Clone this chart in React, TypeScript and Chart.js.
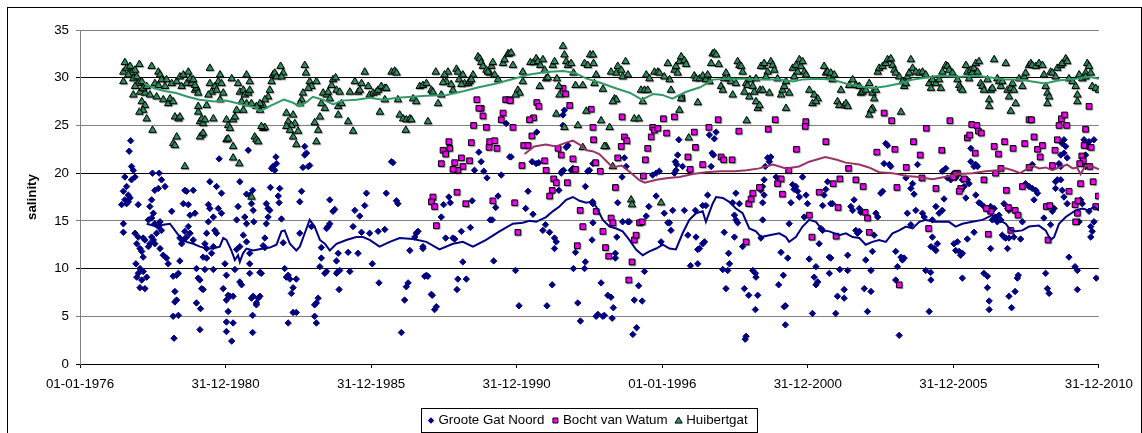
import { useEffect, useRef } from 'react';
import { Chart, registerables } from 'chart.js';

Chart.register(...registerables);

// ---- axis definitions ----
const xTickLabels = ['01-01-1976', '31-12-1980', '31-12-1985', '31-12-1990', '01-01-1996', '31-12-2000', '31-12-2005', '31-12-2010'];
const xStart = 1976;
const xEnd = 2011;
const xStep = 5;
const yMax = 35;
const yStep = 5;
const yTitle = 'salinity';

const seriesNames = ['Groote Gat Noord', 'Bocht van Watum', 'Huibertgat'];

// ---- measurements: [decimal year, salinity] ----
const grooteGatNoord: [number, number][] = [
  [1977.74,23.4],[1977.69,22.3],[1977.77,20.7],[1977.83,20.3],[1977.54,19.6],[1977.89,19.6],[1977.77,19.3],[1977.60,18.6],[1977.49,18.1],[1977.66,17.7],[1977.72,17.4],[1977.54,17.2],[1977.43,16.7],[1977.60,16.8],[1977.66,17.0],[1978.00,16.7],[1977.49,14.7],[1977.49,13.8],[1977.89,13.7],[1978.00,13.3],[1977.95,12.6],[1978.06,12.1],[1978.12,11.8],[1978.17,11.2],[1977.92,10.5],[1978.06,10.0],[1978.17,9.7],[1978.00,9.5],[1977.95,9.1],[1978.29,9.1],[1978.12,8.8],[1978.06,8.0],[1978.23,7.9],
  [1978.49,20.0],[1978.72,20.0],[1978.80,19.3],[1978.92,18.6],[1978.69,18.4],[1978.57,18.2],[1978.46,17.2],[1978.40,16.5],[1978.52,15.8],[1978.46,15.3],[1978.35,15.1],[1978.57,14.7],[1978.75,14.9],[1978.69,14.4],[1978.80,14.0],[1978.63,13.7],[1978.46,13.3],[1978.52,13.0],[1978.40,12.6],[1978.35,12.3],[1978.57,12.6],[1978.75,12.1],[1978.86,11.4],[1978.97,11.1],[1979.03,10.5],[1978.23,13.0],[1978.17,13.2],
  [1979.15,16.0],[1979.43,10.8],[1979.20,9.2],[1979.32,9.3],[1979.38,9.5],[1979.26,7.6],[1979.32,6.7],[1979.26,6.5],[1979.20,5.0],[1979.38,5.1],[1979.23,2.7],
  [1979.60,18.2],[1979.66,18.1],[1979.55,16.8],[1979.72,16.7],[1979.89,18.2],[1979.78,15.6],[1979.95,15.8],[1979.72,14.4],[1979.78,13.7],[1979.66,13.3],[1979.55,13.0],[1979.49,12.6],[1979.89,13.0],[1979.60,13.9],[1979.43,13.2],
  [1980.00,10.0],[1980.12,8.8],[1980.06,9.0],[1980.23,7.8],[1980.18,7.9],[1980.00,6.4],[1980.14,5.8],[1980.12,3.6],
  [1980.46,19.1],[1980.69,18.6],[1980.86,17.9],[1980.41,16.7],[1980.46,16.3],[1980.75,16.3],[1980.86,15.8],[1980.58,15.4],[1980.41,14.9],[1980.63,14.0],[1980.35,13.7],[1980.69,13.7],[1980.29,12.6],[1980.35,12.1],[1980.58,12.3],[1980.52,11.6],[1980.23,11.2],[1980.35,11.1],[1980.58,9.9],[1980.29,9.9],
  [1980.98,10.5],[1981.03,9.3],[1980.92,7.9],[1981.03,6.7],[1981.09,5.5],[1981.03,4.4],[1981.26,4.3],[1981.03,3.4],[1981.21,2.4],[1981.09,7.2],[1981.15,7.1],[1981.26,7.1],
  [1981.49,19.1],[1981.43,16.5],[1981.38,15.1],[1981.66,15.4],[1981.72,14.7],[1981.61,13.5],[1981.72,12.8],[1981.49,12.3],[1981.38,12.0],[1981.32,9.9],[1981.49,8.6],[1981.55,8.3],[1981.84,17.7],[1981.72,17.8],[1981.93,18.2],[1981.89,16.8],[1981.95,16.1],[1981.97,14.9],[1981.89,6.9],[1981.93,5.1],[1981.93,3.3],[1981.78,22.4],[1980.78,21.5],
  [1982.73,21.7],[1982.63,20.7],[1982.69,20.3],[1982.58,20.5],[1982.75,21.0],[1983.72,22.8],[1983.78,22.1],[1983.72,21.9],[1983.66,20.6],[1983.84,20.7],[1983.89,20.8],[1986.70,21.2],[1986.75,21.1],
  [1982.54,18.5],[1982.86,18.4],[1982.81,17.6],[1982.84,16.9],[1982.40,16.8],[1982.46,16.3],[1982.52,16.1],[1982.46,15.4],[1982.40,14.7],[1982.35,13.2],[1982.92,15.2],[1982.98,12.7],[1982.29,12.4],[1982.35,12.2],[1981.83,11.6],[1981.83,10.5],[1981.83,9.5],
  [1982.18,9.6],[1982.23,9.5],[1983.03,10.0],[1983.09,9.1],[1983.15,9.3],[1983.21,8.9],[1983.43,8.9],[1983.32,8.0],[1983.26,7.4],[1981.95,7.1],[1982.12,6.9],[1982.18,7.1],[1982.06,6.4],[1982.06,6.2],[1983.32,5.4],[1983.43,5.4],[1983.15,4.3],
  [1983.61,18.1],[1983.55,17.0],[1984.58,17.2],[1984.75,16.2],[1984.69,16.0],[1984.58,14.7],[1984.52,14.4],[1984.47,14.2],[1983.95,14.4],[1983.55,13.7],[1984.29,12.2],[1984.29,11.1],[1984.24,10.2],[1984.47,9.7],[1984.41,9.5],[1984.87,9.7],[1984.81,9.5],[1984.92,9.8],[1985.27,9.7],[1984.87,11.6],[1984.81,10.8],[1985.21,11.7],[1985.55,11.6],[1984.90,7.8],[1984.18,6.9],[1984.12,6.4],[1984.06,6.2],[1984.06,5.0],[1984.12,4.3],
  [1985.84,17.9],[1985.78,16.6],[1985.44,16.1],[1985.61,15.5],[1985.38,14.4],[1985.67,13.8],[1985.95,13.7],[1986.24,13.9],[1986.47,14.1],[1986.52,17.9],[1986.87,17.1],[1986.92,16.8],[1986.04,10.5],[1986.27,8.5],[1987.27,8.5],[1987.21,8.1],[1987.15,6.7],[1987.04,3.3],[1987.61,13.9],[1987.55,13.7],[1987.50,13.3],[1987.33,11.9],[1987.78,12.3],[1987.84,9.2],
  [1987.78,12.1],[1987.90,9.3],[1987.95,9.2],[1988.10,7.2],[1988.07,7.3],[1988.24,6.0],[1988.18,5.7],[1988.41,15.4],[1988.49,16.7],[1988.56,13.2],[1988.67,17.5],[1988.72,16.9],[1988.87,13.1],[1988.81,13.2],[1989.10,13.9],[1988.98,8.9],[1989.27,8.9],[1988.95,7.8],[1989.15,10.7],[1989.41,14.3],[1989.47,17.1],[1989.55,20.3],[1989.70,22.2],[1989.78,21.2],[1989.87,20.2],[1989.98,19.5],[1990.09,15.1],[1990.16,15.1],[1990.21,10.8],[1990.28,16.4],[1990.36,17.6],[1990.47,19.8],[1990.64,25.2],[1990.81,21.7],[1990.76,21.7],[1990.96,9.8],[1991.08,6.1],[1991.31,16.3],[1991.39,18.1],[1991.56,15.7],[1991.53,21.2],[1991.67,21.0],[1991.76,21.1],[1991.69,24.3],[1992.04,6.1],[1991.90,14.0],[1991.99,14.6],[1992.13,13.8],[1992.30,13.2],[1992.36,12.8],[1992.30,12.1],[1992.22,8.3],[1992.45,18.2],[1992.53,20.0],[1992.56,20.2],[1992.61,20.3],[1992.59,25.0],[1992.59,26.1],[1992.64,26.6],[1992.70,22.7],[1992.76,22.9],[1992.87,20.3],[1992.93,20.5],[1993.10,6.4],[1993.19,4.5],[1993.36,18.6],[1993.44,20.2],[1993.50,20.3],[1993.62,21.0],[1993.62,16.8],[1993.62,14.8],[1993.59,13.0],[1993.02,11.7],[1993.36,10.7],[1993.33,10.0],[1992.95,10.0],
  [1993.61,17.0],[1993.90,8.5],[1994.13,7.2],[1994.24,7.0],[1994.32,5.9],[1994.28,4.8],[1994.01,5.1],[1993.96,5.0],[1993.73,5.0],[1993.79,5.2],[1994.47,16.9],[1994.62,19.6],[1994.70,21.6],[1994.76,20.7],[1994.44,13.3],[1994.39,11.6],[1994.39,11.1],[1994.64,14.9],[1994.82,14.9],[1994.87,14.9],[1994.99,3.1],[1995.12,3.8],[1995.04,6.7],[1995.31,6.6],[1995.19,8.2],[1995.39,9.7],[1995.45,15.5],[1995.54,16.5],[1995.79,17.6],[1996.07,15.8],[1996.19,14.8],[1996.25,14.8],[1996.30,14.0],[1996.36,16.1],[1995.96,12.8],[1995.67,19.8],[1995.79,20.0],[1995.90,20.2],[1996.42,20.0],[1996.47,20.3],[1996.50,20.9],[1996.45,21.2],[1996.53,21.9],[1996.57,23.5],[1996.70,20.7],[1996.76,16.1],[1996.88,13.5],[1996.93,20.3],[1997.14,16.1],[1997.16,13.3],[1997.22,12.0],[1997.28,12.1],[1997.39,12.6],[1997.45,12.8],[1996.97,10.3],[1997.22,10.5],[1997.39,16.6],[1997.50,16.6],[1997.56,17.7],[1997.68,20.7],[1997.71,22.1],[1997.76,21.9],[1997.79,23.6],[1997.62,24.0],[1997.85,24.3],[1998.13,13.8],[1998.19,7.9],[1998.08,9.9],[1998.25,9.8],[1998.28,11.6],[1998.31,10.5],[1998.42,16.9],[1998.48,15.6],[1998.53,15.1],[1998.59,14.8],[1998.53,17.9],[1998.65,16.8],[1998.48,13.3],[1998.76,12.3],[1998.82,7.9],[1998.97,7.2],[1999.11,9.8],[1999.20,9.5],[1999.22,9.1],[1999.28,7.2],[1999.20,5.7],[1998.88,2.9],[1998.85,2.6],[1999.39,13.2],[1999.45,15.1],[1999.45,18.6],
  [1999.50,19.3],[1999.62,21.6],[1999.73,21.7],[1999.68,21.2],[1999.54,20.7],[1999.39,18.2],[1999.50,17.7],[1999.45,16.9],[1999.91,19.6],[2000.04,19.4],[2000.48,18.8],[2000.59,18.6],[2000.53,18.3],[2000.65,18.1],[2000.71,17.5],[2000.82,19.6],[2000.94,17.7],[2000.99,16.8],[2000.42,16.9],[2000.36,14.7],[2000.08,11.7],[2000.31,11.1],[2000.16,9.3],[2000.00,8.3],[2000.23,6.1],[2000.19,6.0],[2000.23,4.1],[2000.88,15.4],[2001.05,11.0],[2001.28,10.2],[2001.22,9.1],[2001.34,8.6],[2001.28,8.3],[2001.16,5.3],[2001.45,14.2],[2001.51,14.0],[2001.56,17.7],[2001.62,18.3],[2001.68,19.1],[2001.51,16.6],[2001.79,16.8],[2001.85,16.8],[2001.39,12.6],[2001.74,11.2],[2001.79,11.1],[2001.74,9.5],[2002.02,7.1],[2002.25,7.8],[2002.37,11.4],[2002.10,9.9],[2001.96,5.3],[2002.37,9.8],[2002.25,6.9],[2002.48,16.5],[2002.59,17.2],[2002.54,16.1],[2002.77,16.3],[2002.82,15.9],[2002.65,14.0],[2002.71,13.7],[2002.77,13.9],[2002.99,10.9],[2003.05,5.5],[2003.17,9.8],[2002.94,7.9],[2003.22,11.8],[2003.17,7.6],[2003.28,13.5],[2003.34,15.8],[2003.40,15.4],[2003.51,17.9],[2003.57,18.1],[2003.62,21.0],[2003.68,23.1],[2003.74,22.9],[2003.80,20.9],[2003.85,20.7],[2004.02,11.8],[2004.08,10.2],[2004.14,3.0],[2004.20,11.2],[2004.25,10.9],[2004.31,11.1],[2004.02,8.8],[2004.42,15.8],[2004.54,18.4],[2004.60,18.9],[2004.65,17.8],[2004.71,16.1],[2004.77,20.9],[2004.37,19.5],[2004.54,14.6],[2004.94,15.8],[2005.00,15.4],[2005.05,9.8],[2005.17,5.5],[2005.23,8.8],[2005.23,12.3],[2005.28,15.1],
  [2005.40,16.5],[2005.62,16.1],[2005.68,17.3],[2005.74,20.5],[2005.62,20.2],[2005.80,19.5],[2005.97,19.5],[2005.91,19.3],[2006.02,20.0],[2006.08,19.5],[2006.31,19.3],[2006.37,18.6],[2006.48,19.3],[2006.54,18.9],[2006.60,22.6],[2006.60,21.2],[2006.71,20.7],[2006.77,20.9],[2006.83,20.7],[2006.43,17.4],[2006.77,17.7],[2006.88,16.9],[2006.94,16.8],[2007.05,16.5],[2007.17,16.2],[2007.28,16.5],[2007.34,15.1],[2007.40,16.3],[2007.45,15.4],[2007.51,14.9],[2007.63,15.1],[2007.74,16.8],[2007.86,16.3],[2007.91,16.1],[2007.57,15.6],[2007.68,13.5],[2007.74,13.3],[2007.80,13.2],[2007.91,13.2],[2008.08,13.3],[2008.31,13.1],[2008.37,14.9],[2008.48,18.9],[2008.66,20.7],[2008.71,20.9],[2008.60,18.6],[2008.71,18.4],[2008.83,18.2],[2008.89,17.9],[2008.77,17.2],[2009.11,15.3],[2009.34,14.6],[2009.40,16.0],[2009.46,16.3],[2009.51,19.1],[2009.57,19.3],[2009.51,18.4],[2009.63,21.0],[2009.69,20.7],[2009.69,19.3],[2009.80,23.5],[2009.74,23.1],[2009.86,22.8],[2009.80,22.1],[2009.69,21.9],[2009.91,21.6],[2009.74,18.2],[2009.80,17.5],[2009.91,16.8],[2010.49,23.5],[2010.66,23.3],[2010.54,21.9],[2010.60,22.8],[2010.54,20.7],[2010.37,17.2],[2010.43,16.8],[2010.32,14.9],[2010.72,14.4],[2010.77,13.9],[2010.83,14.9],[2010.72,13.3],
  [2005.22,9.6],[2005.28,13.3],[2005.34,12.1],[2005.40,11.9],[2005.45,12.6],[2005.51,15.8],[2006.02,12.6],[2006.08,11.9],[2006.20,11.8],[2006.25,11.4],[2006.31,11.6],[2006.48,13.1],[2006.14,12.8],[2006.71,13.8],[2006.31,9.0],[2007.05,9.5],[2007.17,9.2],[2007.28,12.1],[2007.86,12.1],[2007.17,8.0],[2007.23,6.6],[2007.23,5.7],[2007.91,7.1],[2008.00,5.9],[2008.12,7.6],[2008.23,9.3],[2008.20,9.0],[2009.17,9.5],[2009.23,7.9],[2009.29,7.4],[2009.97,11.2],[2010.18,10.2],[2010.26,9.8],[2010.26,7.8],[2010.91,9.0],[2010.83,23.5],[2010.66,16.0],
];

const bochtVanWatum: [number, number][] = [
  [1989.63,27.7],[1989.78,26.8],[1989.70,26.8],[1989.84,26.0],[1989.52,25.0],[1989.96,24.8],[1990.62,27.7],[1990.73,27.7],[1990.78,27.6],[1990.53,26.3],[1990.47,25.6],[1990.87,24.8],[1991.69,27.4],[1991.76,27.0],[1991.58,25.8],[1991.44,25.6],[1991.52,23.9],[1988.67,23.3],[1988.70,22.6],[1988.47,22.4],[1988.56,22.0],[1988.41,21.0],[1988.87,21.1],[1989.10,21.6],[1989.15,20.7],[1988.98,20.3],[1988.81,20.4],[1989.44,23.2],[1989.38,21.3],[1990.07,23.3],[1990.24,23.4],[1990.05,22.7],[1990.32,22.6],[1988.12,17.5],[1988.07,17.0],[1988.18,16.5],[1988.95,18.0],[1989.25,16.8],[1990.18,17.1],[1990.93,16.9],[1988.24,14.5],[1991.24,22.9],[1991.39,22.9],[1991.18,20.8],[1991.96,21.3],[1992.01,20.3],[1992.27,19.4],[1992.36,19.0],[1992.22,18.2],[1992.13,17.6],[1992.74,19.0],[1993.02,20.4],[1992.93,21.5],[1992.53,21.9],[1992.42,22.6],[1992.59,28.9],[1992.68,28.3],[1992.82,27.1],[1993.56,26.7],[1993.62,24.8],[1993.64,23.5],[1993.18,16.1],[1993.27,14.4],[1993.08,12.4],[1991.04,13.8],
  [1993.71,21.1],[1993.87,20.2],[1993.73,16.0],[1993.96,13.9],[1994.05,12.2],[1994.16,11.3],[1994.24,15.3],[1994.30,14.8],[1994.39,18.5],[1994.47,21.6],[1994.59,22.8],[1994.62,25.9],[1994.70,23.8],[1994.78,23.4],[1994.85,8.8],[1994.96,10.7],[1995.04,13.0],[1995.10,13.5],[1995.22,14.8],[1995.31,14.9],[1995.35,19.7],[1995.42,21.4],[1995.50,22.6],[1995.62,23.8],[1995.67,24.8],[1995.73,24.5],[1995.85,24.7],[1996.04,25.7],[1996.15,24.2],[1996.42,25.9],[1996.67,27.9],[1996.88,21.7],[1996.96,20.4],[1997.14,22.7],[1997.10,24.3],[1997.39,20.9],[1997.60,24.8],[1997.92,25.6],[1998.02,21.7],[1998.11,21.4],[1998.40,21.4],[1998.63,24.4],[1998.88,12.8],[1998.97,16.8],[1999.05,17.3],[1999.11,17.9],[1999.34,18.5],
  [1999.88,25.6],[1999.64,24.6],[2000.93,25.4],[2000.91,24.9],[2000.61,22.5],[2001.62,23.3],[2000.34,20.3],[2000.08,19.4],[1999.96,18.9],[2000.13,17.8],[2001.05,15.6],[2001.14,13.3],[2001.39,18.0],[2001.87,18.9],[2002.10,19.4],[2002.04,16.4],[2001.97,13.4],[2002.40,20.5],[2002.65,19.3],[2002.90,18.6],[2002.97,15.9],[2003.05,15.3],[2003.11,13.8],[2003.37,22.2],[2003.62,26.3],[2003.88,25.5],[2003.99,22.5],[2004.06,18.5],[2004.14,8.3],[2004.38,20.6],[2004.63,23.3],[2004.86,21.9],[2004.92,19.5],[2005.07,24.7],[2005.15,14.2],
  [2005.88,25.5],[2005.60,22.4],[2005.40,18.4],[2006.63,25.1],[2006.80,25.0],[2006.86,24.4],[2006.96,24.2],[2006.48,23.7],[2006.56,24.0],[2006.75,22.1],[2007.40,22.8],[2007.55,22.0],[2007.76,23.3],[2008.05,22.6],[2008.45,23.1],[2008.77,23.8],[2008.89,22.5],[2009.06,22.9],[2008.98,21.7],[2009.49,22.4],[2009.57,23.5],[2008.60,25.6],[2008.68,25.6],[2009.63,25.0],[2009.71,25.7],[2009.82,26.1],[2009.89,25.0],[2010.54,24.6],[2010.66,27.0],[2010.49,22.9],[2010.73,22.7],[2010.41,21.8],[2010.46,21.3],[2010.34,21.0],[2010.68,20.7],[2009.40,20.8],[2008.60,20.6],[2007.63,20.5],[2007.45,20.0],[2007.05,19.3],[2006.14,20.0],[2006.06,19.9],[2005.99,19.6],[2006.37,19.4],[2006.25,18.4],[2006.20,18.1],[2008.37,18.6],[2007.82,18.2],[2010.37,18.9],[2010.80,19.1],[2009.97,18.1],[2010.98,17.6],[2010.18,16.7],[2010.28,17.1],[2010.89,16.5],[2009.19,16.5],[2009.31,16.6],[2007.89,16.4],[2008.12,16.1],[2008.22,15.6],[2007.28,16.0],[2007.13,16.3],[2010.26,15.8],[2010.20,14.9],[2007.97,14.0],[2007.20,13.6],[2009.25,13.0],
];

const huibertgat: [number, number][] = [
  [1977.54,31.6],[1977.49,30.6],[1977.60,31.0],[1977.72,31.2],[1977.77,30.5],[1977.89,30.8],[1978.04,31.4],[1977.66,30.3],[1977.49,29.6],[1977.83,29.9],[1977.95,30.1],[1978.00,29.4],[1978.12,29.6],[1977.89,29.1],[1977.83,28.2],[1978.06,28.5],[1978.23,28.4],[1978.17,28.9],[1978.29,29.1],[1978.12,27.5],[1978.23,27.1],[1978.17,26.6],[1978.04,26.4],[1978.29,25.7],[1978.46,31.2],[1978.40,28.2],[1978.49,24.5],[1978.63,28.0],[1978.69,30.6],[1978.75,30.3],[1978.57,29.4],[1978.80,29.8],[1978.69,29.2],[1978.92,29.1],[1978.97,29.8],[1978.86,27.7],[1979.03,27.3],[1979.09,27.8],[1979.20,27.5],[1979.15,29.4],[1979.32,29.6],[1979.43,30.1],[1979.55,30.3],[1979.49,29.1],[1979.66,29.4],[1979.72,30.6],[1979.78,29.9],[1979.83,29.4],[1979.89,29.8],[1979.95,28.7],[1980.00,28.9],[1980.06,28.4],[1979.26,25.9],[1979.38,25.7],[1979.43,25.9],[1979.20,23.1],[1979.32,23.8],[1979.26,22.9],[1980.06,27.0],[1980.06,26.4],[1980.12,25.4],[1980.18,25.7],[1980.23,25.2],[1980.29,25.6],[1980.18,24.0],[1980.12,23.8],[1980.23,24.2],[1979.95,29.2],[1979.60,20.7],[1980.46,31.0],[1980.46,29.4],[1980.52,28.5],[1980.41,28.2],[1980.35,27.1],[1980.58,25.7],[1980.63,29.1],[1980.69,28.7],[1980.75,29.6],[1980.81,30.3],[1980.86,29.4],[1980.92,28.4],[1980.81,27.7],[1981.03,25.6],[1981.09,25.0],[1981.15,24.7],[1981.03,23.5],[1981.09,23.6],[1981.21,29.9],[1981.26,25.6],[1981.32,25.9],[1981.38,26.6],[1981.43,29.4],[1981.49,28.5],[1981.61,28.7],[1981.55,27.5],[1981.66,28.2],[1981.72,30.3],[1981.78,28.4],[1981.72,27.3],[1981.61,26.6],[1981.26,22.8],[1981.26,21.6],[1981.47,21.0],[1981.89,17.5],
  [1982.63,30.3],[1982.69,30.5],[1982.75,30.1],[1982.89,31.2],[1982.98,30.5],[1982.92,30.1],[1982.58,29.6],[1982.52,28.7],[1982.46,28.0],[1982.35,27.7],[1982.29,27.1],[1982.18,27.3],[1982.18,26.6],[1982.06,27.0],[1981.89,27.3],[1981.83,28.7],[1981.83,29.6],[1982.29,24.7],[1982.35,24.8],[1982.23,24.9],[1982.00,23.8],[1982.06,23.5],[1982.12,23.3],[1983.09,26.3],[1983.32,26.1],[1983.15,25.4],[1983.38,25.2],[1983.26,25.0],[1983.09,24.9],[1983.21,24.5],[1983.49,24.4],[1983.32,23.8],[1983.43,23.0],[1983.72,31.3],[1983.76,30.5],[1983.89,29.6],[1983.95,29.1],[1983.84,28.9],[1983.66,28.4],[1983.61,27.7],[1983.55,27.3],[1984.12,29.6],[1984.24,25.9],[1984.18,24.5],[1984.12,23.3],[1984.06,25.3],[1984.35,28.4],[1984.47,28.2],[1984.52,28.5],[1984.58,27.8],[1984.29,27.3],[1984.41,26.8],[1984.69,29.8],[1984.78,30.0],[1984.64,29.2],[1984.81,28.7],[1984.92,28.5],[1984.87,27.0],[1984.87,26.1],[1984.98,27.3],[1985.21,25.4],[1985.38,24.4],[1985.27,28.5],[1985.44,29.6],[1985.55,28.5],[1985.61,28.7],[1985.67,29.4],[1985.78,30.6],[1985.90,29.1],[1985.95,28.2],[1986.07,28.4],[1986.18,28.5],[1986.24,28.7],[1986.35,29.1],[1986.47,28.9],[1986.52,28.9],[1986.47,27.7],[1986.30,26.4],[1986.70,30.6],[1986.81,30.7],[1986.87,30.5],[1986.92,27.7],[1986.98,26.1],[1987.10,25.7],[1987.21,25.6],[1987.33,25.7],[1987.38,25.6],[1987.19,24.5],[1987.44,27.8],[1987.55,27.5],[1987.67,29.1],[1987.78,29.2],
  [1988.22,30.6],[1988.07,28.7],[1988.12,28.5],[1987.90,29.4],[1987.95,25.4],[1988.41,28.2],[1988.30,27.3],[1988.64,30.6],[1988.52,30.3],[1988.58,29.6],[1988.47,29.5],[1988.81,28.7],[1988.75,29.3],[1988.93,30.9],[1988.98,30.6],[1989.02,29.8],[1989.15,30.3],[1989.21,29.4],[1989.10,29.3],[1989.33,29.4],[1989.38,29.6],[1989.50,30.3],[1989.44,29.8],[1989.67,32.2],[1989.73,32.0],[1989.78,31.6],[1989.84,31.2],[1989.96,30.8],[1990.13,31.2],[1990.18,31.6],[1990.07,30.5],[1990.01,30.6],[1990.24,30.3],[1990.36,29.8],[1990.53,31.5],[1990.58,31.9],[1990.70,32.5],[1990.73,32.5],[1990.81,32.6],[1990.87,31.3],[1991.04,28.7],[1991.10,28.4],[1990.96,28.2],[1991.21,29.6],[1991.21,30.6],[1991.47,31.6],[1991.58,31.6],[1991.67,32.0],[1991.73,31.7],[1991.81,31.3],[1991.90,31.9],[1991.96,30.8],[1992.01,29.9],[1992.07,30.0],[1991.79,29.1],[1992.24,31.3],[1992.30,31.7],[1992.38,29.9],[1992.45,29.1],[1992.47,28.2],[1992.59,33.3],[1992.64,32.4],[1992.70,31.7],[1992.76,31.3],[1992.87,31.5],[1992.95,30.5],[1993.02,29.2],[1993.27,29.2],[1993.33,31.5],[1993.44,31.3],[1993.52,32.4],[1993.62,32.4],[1992.36,26.2],[1993.10,25.0],[1992.64,24.8],[1993.39,26.5],[1993.27,22.7],
  [1993.64,31.5],[1993.73,30.3],[1993.67,29.4],[1993.96,28.8],[1994.24,30.6],[1994.47,31.2],[1994.42,30.5],[1994.59,30.8],[1994.64,30.1],[1994.74,31.7],[1994.82,30.3],[1994.36,27.8],[1994.42,27.7],[1994.30,27.5],[1995.27,28.7],[1995.33,27.5],[1995.39,28.7],[1995.50,28.7],[1995.04,25.7],[1995.19,25.7],[1993.90,25.5],[1994.19,24.8],[1994.07,22.8],[1994.01,22.8],[1994.30,20.7],[1994.93,17.2],[1994.96,16.7],[1995.96,16.9],[1996.30,28.7],[1996.59,26.6],[1996.65,27.8],[1996.91,23.7],[1997.22,27.4],[1996.42,30.8],[1996.47,31.2],[1996.53,30.5],[1996.59,31.7],[1996.65,32.2],[1996.76,31.8],[1996.82,31.4],[1996.19,31.5],[1996.25,29.8],[1995.73,30.6],[1995.85,30.6],[1995.90,30.5],[1995.45,30.3],[1995.56,29.9],[1996.07,30.1],[1997.10,30.2],[1997.16,29.9],[1997.28,29.9],[1997.39,30.2],[1997.50,29.8],[1997.56,30.3],[1997.62,29.6],[1997.68,31.5],[1997.73,32.5],[1997.79,32.6],[1997.85,32.4],[1997.94,31.4],[1998.02,29.1],[1998.08,28.7],[1998.13,29.9],[1998.19,30.5],[1998.28,29.9],[1998.36,29.6],[1998.42,28.2],[1998.53,29.4],[1998.59,31.7],[1998.65,31.3],[1998.71,31.2],[1998.76,30.6],[1998.82,28.5],[1998.88,29.4],[1998.93,29.2],[1999.01,29.8],[1999.11,29.1],[1999.16,28.5],[1999.22,27.5],[1999.28,26.8],[1999.34,27.1],[1999.36,28.7],[1999.45,31.2],[1998.90,25.5],[1998.99,28.0],[1999.22,29.9],
  [1999.39,31.2],[1999.50,31.5],[1999.62,30.6],[1999.73,31.7],[1999.79,31.3],[1999.85,30.8],[1999.56,30.1],[1999.45,28.7],[1999.68,28.4],[1999.96,29.9],[2000.08,28.2],[2000.13,28.7],[2000.19,29.1],[2000.25,29.6],[2000.36,28.4],[2000.25,26.8],[2000.48,31.0],[2000.53,30.1],[2000.59,31.3],[2000.65,30.6],[2000.71,31.9],[2000.76,31.2],[2000.82,31.7],[2000.88,30.6],[2000.94,30.3],[2001.05,28.7],[2001.16,27.3],[2001.22,28.2],[2001.34,27.8],[2001.28,27.5],[2001.56,31.2],[2001.62,30.5],[2001.68,30.6],[2001.74,30.1],[2001.79,30.5],[2001.85,29.8],[2001.91,30.3],[2002.02,27.5],[2002.08,27.1],[2002.14,28.7],[2002.25,27.1],[2002.31,27.3],[2002.37,27.0],[2002.42,29.2],[2002.54,29.8],[2002.65,29.2],[2002.77,29.1],[2002.82,28.4],[2002.88,28.5],[2002.99,28.7],[2003.11,29.4],[2003.22,28.4],[2003.28,27.8],[2003.34,28.7],[2003.22,26.8],[2003.17,26.6],[2003.11,26.1],[2003.40,30.6],[2003.45,31.0],[2003.57,31.2],[2003.68,31.5],[2003.74,31.9],[2003.85,32.0],[2003.91,31.3],[2003.97,30.8],[2004.02,30.5],[2004.14,30.1],[2004.20,26.4],[2004.25,29.6],[2004.31,29.1],[2004.37,29.4],[2004.42,30.1],[2004.48,30.5],[2004.54,31.9],[2004.60,31.0],[2004.71,30.6],[2004.83,30.5],[2004.94,30.6],[2005.05,30.3],[2005.17,29.4],[2005.23,28.9],[2005.28,29.8],
  [2005.40,29.4],[2005.51,29.8],[2005.62,30.6],[2005.74,31.3],[2005.80,31.2],[2005.85,30.8],[2005.97,30.5],[2005.57,28.9],[2006.14,29.8],[2006.20,29.2],[2006.25,28.9],[2006.31,28.7],[2006.43,31.3],[2006.48,30.6],[2006.54,29.9],[2006.60,30.8],[2006.65,30.5],[2006.71,31.0],[2006.77,31.5],[2006.88,31.7],[2006.83,30.6],[2006.94,29.4],[2007.00,29.1],[2007.05,28.7],[2007.17,29.8],[2007.28,28.7],[2007.34,28.9],[2007.40,31.9],[2007.51,29.9],[2007.57,29.6],[2007.63,29.1],[2007.68,29.6],[2007.80,31.5],[2007.86,28.7],[2007.91,28.0],[2007.97,28.9],[2008.03,29.4],[2008.08,28.7],[2008.14,27.3],[2007.97,26.5],[2008.26,29.9],[2008.37,29.1],[2008.43,30.1],[2008.48,30.5],[2008.60,31.3],[2008.66,31.5],[2008.71,31.3],[2008.83,31.2],[2008.94,31.5],[2009.06,31.3],[2009.11,30.3],[2009.17,29.1],[2009.23,28.4],[2009.29,28.0],[2009.23,27.3],[2009.34,30.6],[2009.40,30.5],[2009.51,30.1],[2009.57,31.0],[2009.69,31.3],[2009.74,31.5],[2009.86,32.0],[2009.91,31.7],[2009.97,29.9],[2010.09,29.6],[2010.20,29.1],[2010.26,28.2],[2010.26,27.5],[2010.32,30.3],[2010.43,29.9],[2010.54,30.5],[2010.60,31.5],[2010.66,31.2],[2010.72,30.5],[2010.77,29.1],[2010.89,28.9],[2011.00,28.7],[2010.54,30.1],[2007.23,27.7],[2007.23,27.0],
];

// ---- moving averages: [decimal year, salinity] ----
const grooteGatNoordAvg: [number, number][] = [
  [1978.29,14.7],[1978.63,14.4],[1978.86,14.6],[1979.09,14.7],[1979.26,14.0],[1979.43,13.3],[1979.66,12.8],[1979.89,12.6],[1980.12,12.3],[1980.35,12.1],[1980.57,12.1],[1980.80,12.3],[1980.92,13.2],[1981.03,13.0],[1981.20,11.9],[1981.32,10.9],[1981.43,11.4],[1981.49,10.7],[1981.60,11.6],[1981.72,12.1],[1981.95,11.9],[1982.29,12.1],[1982.52,12.2],[1982.75,12.5],[1982.92,13.9],[1983.03,14.0],[1983.21,12.6],[1983.43,11.9],[1983.55,12.3],[1983.72,13.7],[1983.89,15.1],[1984.06,14.4],[1984.24,13.0],[1984.41,12.6],[1984.58,11.9],[1984.81,12.6],[1985.15,13.0],[1985.49,13.3],[1985.72,13.3],[1985.95,13.0],[1986.29,12.3],[1986.64,12.8],[1986.98,13.2],[1987.44,13.1],[1987.90,12.8],[1988.35,12.0],[1988.81,12.6],[1989.15,12.8],[1989.50,12.3],[1989.95,13.0],[1990.41,13.9],[1990.87,14.7],[1991.21,14.8],[1991.44,15.0],[1991.67,14.9],[1992.01,15.4],[1992.24,16.0],[1992.47,16.5],[1992.70,17.2],[1992.93,17.5],[1993.16,17.1],[1993.39,16.9],[1993.55,17.0],[1993.73,16.5],[1993.96,15.1],[1994.19,14.4],[1994.42,14.2],[1994.64,13.9],[1994.87,13.0],[1995.10,12.0],[1995.33,11.4],[1995.56,11.8],[1995.79,12.1],[1996.02,12.5],[1996.25,12.1],[1996.47,12.0],[1996.70,13.7],[1996.93,15.1],[1997.16,15.8],[1997.39,16.0],[1997.50,14.9],[1997.73,16.8],[1997.85,17.5],[1998.08,17.4],[1998.30,17.0],[1998.53,16.3],[1998.76,15.8],[1998.99,14.2],[1999.22,13.9],[1999.39,13.3],[1999.68,13.5],[2000.02,13.7],[2000.25,13.3],[2000.36,12.8],[2000.59,13.3],[2000.82,14.4],[2001.05,15.1],[2001.28,14.9],[2001.51,14.0],[2001.74,13.9],[2002.08,13.5],[2002.31,13.7],[2002.54,13.3],[2002.77,13.2],[2002.99,12.5],[2003.22,12.8],[2003.45,13.0],[2003.68,12.8],[2003.91,13.7],[2004.14,14.0],[2004.37,14.4],[2004.60,14.2],[2004.83,14.9],[2005.05,15.1],[2005.34,14.9],[2005.51,14.9],[2005.85,14.9],[2006.08,14.4],[2006.31,14.7],[2006.65,14.9],[2007.00,15.1],[2007.34,15.6],[2007.57,15.1],[2007.80,14.7],[2007.97,14.0],[2008.14,13.9],[2008.37,14.0],[2008.60,14.4],[2008.94,14.5],[2009.17,14.0],[2009.34,13.0],[2009.46,13.3],[2009.63,14.7],[2009.86,15.4],[2010.20,16.1],[2010.43,16.3],[2010.66,16.1],[2010.83,16.5],[2011.00,16.1],
];

const bochtVanWatumAvg: [number, number][] = [
  [1991.27,22.0],[1991.60,22.8],[1992.00,23.0],[1992.35,22.8],[1992.70,23.2],[1992.93,23.4],[1993.16,23.0],[1993.40,22.4],[1993.60,22.3],[1993.84,22.0],[1994.07,21.3],[1994.30,20.6],[1994.60,20.8],[1994.90,20.1],[1995.20,19.3],[1995.40,19.0],[1995.80,19.3],[1996.20,19.5],[1996.60,19.6],[1997.05,19.9],[1997.50,20.1],[1998.00,20.2],[1998.50,20.2],[1998.90,20.3],[1999.33,20.5],[1999.80,20.9],[2000.25,20.5],[2000.70,20.7],[2001.05,21.2],[2001.60,21.7],[2002.00,21.4],[2002.30,21.1],[2002.77,20.9],[2003.10,20.6],[2003.45,20.1],[2003.90,20.0],[2004.40,19.7],[2004.80,19.6],[2005.28,19.35],[2005.70,19.6],[2006.20,19.9],[2006.65,20.0],[2007.10,20.2],[2007.57,20.3],[2007.80,20.5],[2008.03,20.3],[2008.30,20.0],[2008.50,20.4],[2008.71,20.8],[2008.95,20.5],[2009.17,20.6],[2009.40,20.3],[2009.63,20.6],[2009.90,20.9],[2010.10,20.5],[2010.25,20.6],[2010.37,19.9],[2010.54,20.8],[2010.77,20.7],[2011.00,20.4],
];

const huibertgatAvg: [number, number][] = [
  [1978.20,29.4],[1978.55,28.9],[1978.90,28.6],[1979.30,28.4],[1979.70,28.0],[1980.10,27.7],[1980.60,27.5],[1981.00,27.6],[1981.30,27.4],[1981.70,27.1],[1982.00,26.9],[1982.20,26.5],[1982.50,27.0],[1983.00,27.7],[1983.30,27.4],[1983.55,27.0],[1983.80,27.5],[1984.00,28.0],[1984.35,27.7],[1984.70,27.2],[1985.00,27.6],[1985.50,27.7],[1985.95,27.9],[1986.40,27.7],[1986.90,27.9],[1987.40,28.0],[1987.90,28.1],[1988.60,28.2],[1989.20,28.6],[1989.70,29.0],[1990.30,29.4],[1990.90,29.9],[1991.40,30.3],[1992.00,30.6],[1992.60,30.7],[1993.00,30.5],[1993.40,29.9],[1993.85,29.5],[1994.30,29.0],[1994.90,28.4],[1995.30,27.7],[1995.70,28.3],[1996.00,28.2],[1996.35,27.8],[1996.80,28.5],[1997.30,29.0],[1997.75,29.8],[1998.20,29.9],[1998.90,29.9],[1999.30,29.8],[2000.00,29.8],[2000.50,29.6],[2000.80,29.8],[2001.30,29.9],[2001.85,29.8],[2002.30,29.4],[2002.80,29.1],[2003.20,28.9],[2003.70,29.1],[2004.15,29.4],[2004.60,29.8],[2005.05,30.0],[2005.50,30.2],[2006.20,30.1],[2006.80,30.2],[2007.35,30.0],[2007.80,29.8],[2008.25,29.8],[2008.70,29.6],[2009.15,29.4],[2009.60,29.7],[2010.20,29.9],[2010.65,30.1],[2011.00,29.9],
];

// ---- styling ----
const FONT = '"Liberation Sans", Arial, Helvetica, sans-serif';
const FONT_SIZE = 13.33;
const NAVY = '#000080';
const MAGENTA = '#FF00FF';
const SEA_GREEN = '#339966';
const PLUM = '#993366';

const toXY = (rows: [number, number][]) => rows.map(([x, y]) => ({ x, y }));

// draws a small marker for each entry of the boxed legend
function drawLegendMarker(ctx: CanvasRenderingContext2D, i: number, x: number, y: number) {
  ctx.save();
  ctx.lineWidth = 1;
  ctx.beginPath();
  if (i === 0) {
    ctx.moveTo(x, y - 3.2);
    ctx.lineTo(x + 3.2, y);
    ctx.lineTo(x, y + 3.2);
    ctx.lineTo(x - 3.2, y);
    ctx.closePath();
    ctx.fillStyle = NAVY;
    ctx.fill();
  } else if (i === 1) {
    ctx.rect(x - 2.5, y - 2.5, 5, 5);
    ctx.fillStyle = MAGENTA;
    ctx.fill();
    ctx.strokeStyle = '#000';
    ctx.stroke();
  } else {
    ctx.moveTo(x, y - 3.5);
    ctx.lineTo(x + 3.6, y + 2.6);
    ctx.lineTo(x - 3.6, y + 2.6);
    ctx.closePath();
    ctx.fillStyle = SEA_GREEN;
    ctx.fill();
    ctx.strokeStyle = '#000';
    ctx.stroke();
  }
  ctx.restore();
}

// legend in a thin black frame, centred under the plot area
const boxedLegend = {
  id: 'boxedLegend',
  afterDraw(chart: any) {
    const { ctx, chartArea } = chart;
    ctx.save();
    ctx.font = `${FONT_SIZE}px ${FONT}`;
    const widths = seriesNames.map((n) => ctx.measureText(n).width);
    const padL = 9.5;
    const toText = 7.5;
    const between = 11;
    const padR = 10;
    const total = padL + widths.reduce((a, w) => a + toText + w, 0) + between * (widths.length - 1) + padR;
    const left = Math.round((chartArea.left + chartArea.right) / 2 - total / 2) + 0.5;
    const top = Math.round(chartArea.bottom) + 44 + 0.5;
    const h = 24;
    ctx.fillStyle = '#fff';
    ctx.fillRect(left, top, total, h);
    ctx.strokeStyle = '#000';
    ctx.lineWidth = 1;
    ctx.strokeRect(left, top, Math.round(total), h);
    let x = left + padL;
    const cy = top + h / 2;
    seriesNames.forEach((name, i) => {
      drawLegendMarker(ctx, i, x, cy);
      ctx.fillStyle = '#000';
      ctx.textBaseline = 'middle';
      ctx.textAlign = 'left';
      ctx.fillText(name, x + toText, cy);
      x += toText + widths[i] + between;
    });
    ctx.restore();
  },
};

// soft drop shadow behind the outlined markers
const markerShadow = {
  id: 'markerShadow',
  beforeDatasetDraw(chart: any, args: any) {
    const ds = chart.data.datasets[args.index];
    if (ds && ds.shadow) {
      const ctx = chart.ctx;
      ctx.save();
      ctx.shadowColor = 'rgba(0,0,0,0.3)';
      ctx.shadowOffsetX = 1;
      ctx.shadowOffsetY = 1;
      ctx.shadowBlur = 1;
    }
  },
  afterDatasetDraw(chart: any, args: any) {
    const ds = chart.data.datasets[args.index];
    if (ds && ds.shadow) chart.ctx.restore();
  },
};

export default function App() {
  const canvasRef = useRef<HTMLCanvasElement | null>(null);

  useEffect(() => {
    const canvas = canvasRef.current;
    if (!canvas) return;
    const chart = new Chart(canvas, {
      type: 'scatter',
      data: {
        datasets: [
          {
            label: seriesNames[0],
            data: toXY(grooteGatNoord),
            pointStyle: 'rectRot',
            pointRadius: 3.2,
            backgroundColor: NAVY,
            borderColor: NAVY,
            borderWidth: 1,
            order: 3,
          },
          {
            label: seriesNames[1],
            data: toXY(bochtVanWatum),
            pointStyle: 'rect',
            pointRadius: 4,
            backgroundColor: MAGENTA,
            borderColor: '#000',
            borderWidth: 1,
            order: 2,
            shadow: true,
          } as any,
          {
            label: seriesNames[2],
            data: toXY(huibertgat),
            pointStyle: 'triangle',
            pointRadius: 4.3,
            backgroundColor: SEA_GREEN,
            borderColor: '#000',
            borderWidth: 1,
            order: 1,
            shadow: true,
          } as any,
          {
            label: 'avg ' + seriesNames[0],
            data: toXY(grooteGatNoordAvg),
            showLine: true,
            pointRadius: 0,
            borderColor: NAVY,
            borderWidth: 2,
            tension: 0,
            order: 0,
          },
          {
            label: 'avg ' + seriesNames[1],
            data: toXY(bochtVanWatumAvg),
            showLine: true,
            pointRadius: 0,
            borderColor: PLUM,
            borderWidth: 2,
            tension: 0,
            order: 0,
          },
          {
            label: 'avg ' + seriesNames[2],
            data: toXY(huibertgatAvg),
            showLine: true,
            pointRadius: 0,
            borderColor: SEA_GREEN,
            borderWidth: 2,
            tension: 0,
            order: 0,
          },
        ],
      },
      options: {
        responsive: false,
        animation: false,
        events: [],
        layout: { padding: { left: 0, top: 22, right: 41, bottom: 0 } },
        plugins: {
          legend: { display: false },
          tooltip: { enabled: false },
        },
        scales: {
          x: {
            type: 'linear',
            min: xStart,
            max: xEnd,
            ticks: {
              stepSize: xStep,
              autoSkip: false,
              maxRotation: 0,
              color: '#000',
              padding: 8,
              font: { family: FONT, size: FONT_SIZE },
              callback: (v: any) => xTickLabels[Math.round((Number(v) - xStart) / xStep)] ?? '',
            },
            grid: { drawOnChartArea: false, drawTicks: true, tickLength: 4, color: '#000' },
            border: { color: '#000', width: 1 },
            afterFit: (scale: any) => {
              scale.height = 82;
            },
          },
          y: {
            min: 0,
            max: yMax,
            ticks: {
              stepSize: yStep,
              color: '#000',
              padding: 7,
              font: { family: FONT, size: FONT_SIZE },
            },
            grid: {
              tickLength: 4,
              lineWidth: 1,
              color: (c: any) => (c.tick && c.tick.value % 10 === 0 ? '#000' : '#808080'),
            },
            border: { color: '#808080', width: 1 },
            title: {
              display: true,
              text: yTitle,
              color: '#000',
              font: { family: FONT, size: FONT_SIZE, weight: 'bold' },
              padding: { top: 16, bottom: 0 },
            },
            afterFit: (scale: any) => {
              scale.width = 72;
            },
          },
        },
      },
      plugins: [markerShadow, boxedLegend],
    } as any);
    return () => chart.destroy();
  }, []);

  return (
    <div
      style={{
        position: 'fixed',
        left: 7,
        top: 7,
        width: 1135,
        height: 445,
        border: '1px solid #000',
        boxSizing: 'border-box',
        background: '#fff',
      }}
    >
      <canvas ref={canvasRef} width={1133} height={438} style={{ display: 'block' }} />
    </div>
  );
}
